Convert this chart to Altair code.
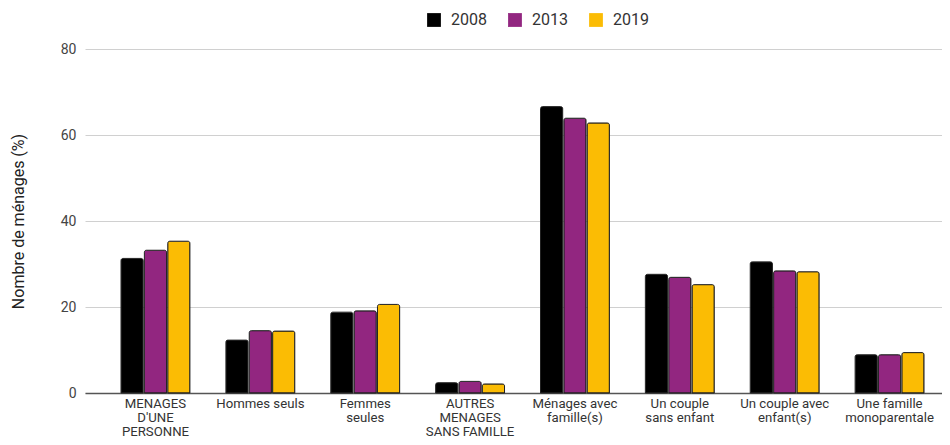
import altair as alt
import pandas as pd

categories = [
    "MENAGES|D'UNE|PERSONNE",
    "Hommes seuls",
    "Femmes|seules",
    "AUTRES|MENAGES|SANS FAMILLE",
    "Ménages avec|famille(s)",
    "Un couple|sans enfant",
    "Un couple avec|enfant(s)",
    "Une famille|monoparentale",
]
years = ["2008", "2013", "2019"]
v2008 = [31.3, 12.3, 18.8, 2.4, 66.6, 27.6, 30.5, 8.9]
v2013 = [33.2, 14.5, 19.1, 2.7, 63.9, 26.9, 28.4, 8.9]
v2019 = [35.3, 14.4, 20.6, 2.1, 62.8, 25.2, 28.2, 9.4]
colors = ["#000000", "#922680", "#fbbc04"]

rows = []
for y, vals in zip(years, [v2008, v2013, v2019]):
    for c, v in zip(categories, vals):
        rows.append({"cat": c, "year": y, "value": v})
df = pd.DataFrame(rows)

W = 857
H = 344

chart = alt.Chart(df).mark_bar(
    stroke="#222222", strokeWidth=1, cornerRadiusTopLeft=2, cornerRadiusTopRight=2
).encode(
    x=alt.X("cat:N", sort=categories, title=None,
            scale=alt.Scale(paddingInner=0.343, paddingOuter=0.2574, align=0.667),
            axis=alt.Axis(labelAngle=0, labelExpr="split(datum.label, '|')",
                          ticks=False, labelFontSize=13.2, labelColor="#333333",
                          labelFont="Roboto", labelPadding=4, labelLineHeight=14,
                          domainColor="#555555", domainWidth=1.5, grid=False)),
    xOffset=alt.XOffset("year:N", sort=years, scale=alt.Scale(paddingInner=0.05)),
    y=alt.Y("value:Q", title="Nombre de ménages (%)",
            scale=alt.Scale(domain=[0, 80]),
            axis=alt.Axis(values=[0, 20, 40, 60, 80], ticks=False, domain=False,
                          labelFontSize=14, labelColor="#444444", labelFont="Roboto",
                          labelPadding=9, titleFont="Roboto", titleFontSize=16,
                          titleFontWeight="normal", titleColor="#222222",
                          titlePadding=34, gridColor="#d0d0d0")),
    color=alt.Color("year:N", sort=years,
                    scale=alt.Scale(domain=years, range=colors),
                    legend=alt.Legend(title=None, orient="none", direction="horizontal",
                                      legendX=341, legendY=-37,
                                      symbolType="square", symbolSize=190,
                                      symbolStrokeWidth=0, labelFontSize=16,
                                      labelFont="Roboto", labelColor="#333333",
                                      columnPadding=20, labelOffset=9)),
).properties(
    width=W, height=H,
    autosize=alt.AutoSizeParams(type="none"),
    padding={"left": 77, "top": 41, "right": 0, "bottom": 44},
).configure_view(stroke=None)

chart.save("out.html", embed_options={"renderer": "svg", "actions": False})
